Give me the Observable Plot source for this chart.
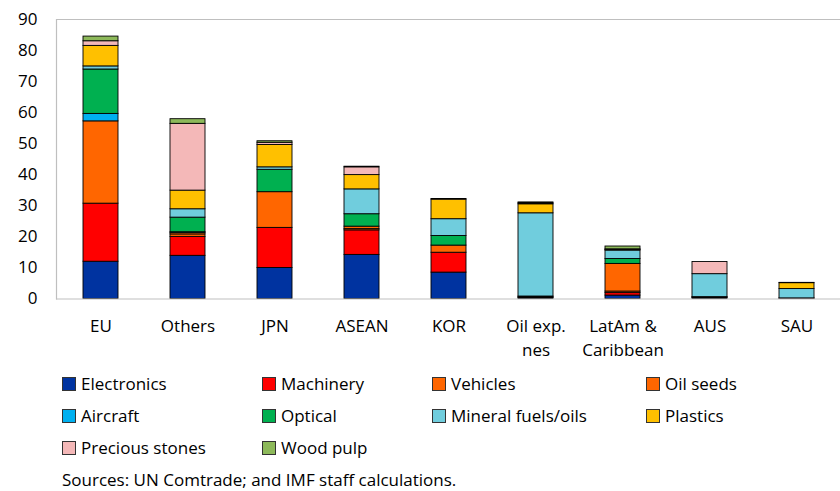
<!DOCTYPE html>
<html>
<head>
<meta charset="utf-8">
<script src="https://cdn.jsdelivr.net/npm/d3@7"></script>
<script src="https://cdn.jsdelivr.net/npm/@observablehq/plot@0.6"></script>
<style>
  body { margin: 0; background: #fff; font-family: "Open Sans", "Noto Sans", sans-serif; }
  #wrap { position: relative; width: 840px; height: 491px; }
  .leg { position: absolute; font-size: 17px; color: #000; line-height: 20px; white-space: nowrap; }
  .sw { display: inline-block; width: 12px; height: 12px; border: 1px solid #333; vertical-align: -1px; margin-right: 5px; }
  #src { position: absolute; left: 62px; top: 469px; font-size: 17px; line-height: 22px; color: #000; }
</style>
</head>
<body>
<div id="wrap"></div>
<script>
const categories = ["EU", "Others", "JPN", "ASEAN", "KOR", "Oil exp.\nnes", "LatAm &\nCaribbean", "AUS", "SAU"];
const seriesNames = ["Electronics", "Machinery", "Vehicles", "Oil seeds", "Aircraft", "Optical", "Mineral fuels/oils", "Plastics", "Precious stones", "Wood pulp"];
const seriesColors = ["#0033a0", "#ff0000", "#ff6600", "#ff6600", "#00b0f0", "#00b050", "#70cddd", "#ffc000", "#f4b8b8", "#8db95a"];
const electronics    = [12.0, 13.9, 10.0, 14.2, 8.5, 0.3, 1.1, 0.3, 0.1];
const machinery      = [18.7, 6.1, 12.9, 7.9, 6.4, 0.3, 0.8, 0.2, 0.1];
const vehicles       = [26.5, 0.8, 11.5, 0.4, 2.3, 0.2, 0.5, 0.1, 0];
const oilSeeds       = [0, 0.5, 0, 0.8, 0, 0, 8.9, 0, 0];
const aircraft       = [2.4, 0.2, 0, 0, 0, 0, 0, 0, 0];
const optical        = [14.3, 4.7, 7.2, 4.0, 3.1, 0, 1.6, 0, 0];
const mineralFuels   = [1.0, 2.7, 0.8, 8.0, 5.4, 26.8, 2.7, 7.4, 3.0];
const plastics       = [6.6, 6.0, 7.2, 4.6, 6.3, 2.9, 0.2, 0, 1.9];
const preciousStones = [1.5, 21.5, 0.7, 2.5, 0.2, 0.3, 0.2, 3.9, 0];
const woodPulp       = [1.5, 1.5, 0.5, 0.2, 0, 0.3, 0.9, 0, 0.1];
const yTicks = [0, 10, 20, 30, 40, 50, 60, 70, 80, 90];
const sourceNote = "Sources: UN Comtrade; and IMF staff calculations.";

const seriesValues = [electronics, machinery, vehicles, oilSeeds, aircraft, optical, mineralFuels, plastics, preciousStones, woodPulp];
const data = [];
seriesNames.forEach((s, i) => {
  categories.forEach((c, j) => {
    data.push({category: c, series: s, value: seriesValues[i][j]});
  });
});

const chart = Plot.plot({
  width: 840,
  height: 365,
  marginTop: 19,
  marginBottom: 66.5,
  marginLeft: 56,
  marginRight: 0,
  style: {fontFamily: "'Open Sans', 'Noto Sans', sans-serif", fontSize: "17px", color: "#000", background: "#fff"},
  x: {domain: categories, range: [55, 842], paddingInner: 0.6, paddingOuter: 0.3, align: 0.5},
  y: {domain: [0, 90]},
  color: {domain: seriesNames, range: seriesColors},
  marks: [
    Plot.barY(data, Plot.stackY({
      x: "category", y: "value", fill: "series", order: seriesNames,
      filter: d => d.value > 0,
      stroke: "#000", strokeWidth: 0.9
    })),
    Plot.ruleY([0, 90], {stroke: "#bfbfbf", strokeWidth: 1.2}),
    Plot.frame({anchor: "left", stroke: "#bfbfbf", strokeWidth: 1.2}),
    Plot.axisY(yTicks, {tickSize: 0, tickPadding: 19, fontSize: 17, label: null}),
    Plot.axisX({tickSize: 0, tickPadding: 16, fontSize: 17, lineHeight: 1.42, label: null})
  ]
});
const wrap = document.getElementById("wrap");
wrap.appendChild(chart);

const colX = [62, 262, 432, 646];
const rowY = [374, 406, 438];
seriesNames.forEach((s, i) => {
  const d = document.createElement("div");
  d.className = "leg";
  d.style.left = colX[i % 4] + "px";
  d.style.top = rowY[Math.floor(i / 4)] + "px";
  d.innerHTML = `<span class="sw" style="background:${seriesColors[i]}"></span>${s}`;
  wrap.appendChild(d);
});
const src = document.createElement("div");
src.id = "src";
src.textContent = sourceNote;
wrap.appendChild(src);
</script>
</body>
</html>
